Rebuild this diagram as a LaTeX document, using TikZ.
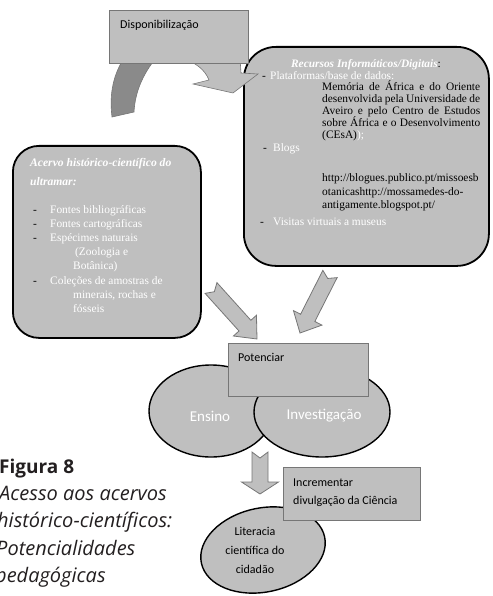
\documentclass[tikz,border=0pt]{standalone}
\usepackage{fontspec}
\setmainfont{Liberation Serif}
\newfontfamily\calfont{Carlito}
\newfontfamily\capfont{Open Sans}
\usetikzlibrary{shapes.geometric,calc}
\definecolor{boxfill}{HTML}{BFBFBF}
\definecolor{boxedge}{HTML}{767676}
\definecolor{darkband}{HTML}{8A8A8A}
\definecolor{captcol}{HTML}{231F20}
\tikzset{
  sqbox/.style={draw=boxedge, fill=boxfill, line width=1pt, inner sep=0pt, anchor=north west},
  rbox/.style={draw=black, fill=boxfill, line width=1.8pt, inner sep=0pt, anchor=north west},
  oval/.style={ellipse, draw=black, fill=boxfill, line width=1.4pt, inner sep=0pt},
  blockarrow/.style={draw=boxedge, fill=boxfill, line width=0.8pt, line join=miter},
  lbl/.style={font=\calfont\fontsize{12}{14}\selectfont, inner sep=0pt, anchor=base west},
  wtxt/.style={font=\fontsize{11.4}{13}\selectfont, text=white, inner sep=0pt, anchor=base west},
  btxt/.style={font=\fontsize{11.4}{13}\selectfont, text=black, inner sep=0pt, anchor=base west},
  captxt/.style={font=\capfont\fontsize{20}{22}\selectfont\itshape, inner sep=0pt, anchor=base west, text=captcol},
}
\newcommand{\notcharrow}[7]{%
  \coordinate (na-B) at ($(#3)!#6!(#2)$);
  \coordinate (na-N) at ($(#2)!#7!(#3)$);
  \draw[#1] ($(#2)!#4!90:(#3)$) -- ($(na-B)!#4!90:(#3)$) -- ($(na-B)!#5!90:(#3)$) -- (#3)
    -- ($(na-B)!#5!-90:(#3)$) -- ($(na-B)!#4!-90:(#3)$) -- ($(#2)!#4!-90:(#3)$) -- (na-N) -- cycle;
}
\begin{document}
\begin{tikzpicture}[x=1pt,y=-1pt]
\useasboundingbox (0,0) rectangle (492,596);
% big rounded boxes
\node[rbox, rounded corners=26pt, minimum width=188pt, minimum height=192pt] (acervo) at (12,145) {};
\node[rbox, rounded corners=32pt, minimum width=245pt, minimum height=219pt] (recursos) at (243,46) {};
% curved arrow
\filldraw[fill=darkband, draw=boxedge, line width=0.6pt] (112,117) .. controls (109,92) and (114,74) .. (124,58) -- (156,58) .. controls (143,74) and (135,92) .. (134,112) -- cycle;
\filldraw[fill=boxfill, draw=boxedge, line width=0.6pt] (180,58) .. controls (196,62) and (205,70) .. (209,80) -- (193,84) -- (233,93) -- (258,74) -- (241,73) -- (240,58) -- cycle;
% Disponibilizacao
\node[sqbox, minimum width=139pt, minimum height=53pt] (disp) at (109,10) {};
\node[lbl] (disptxt) at (120,29) {Disponibilização};
% Recursos text
\node[inner sep=0pt, anchor=base, font=\fontsize{11.4}{13}\selectfont] (r1) at (366,68) {\textcolor{white}{\textbf{\textit{Recursos Informáticos/Digitais}}}:};
\node[btxt] (r2d) at (262,80) {-};
\node[wtxt] (r2) at (270,80) {Plataformas/base de dados:};
\node[btxt] (r3) at (322,91) {\makebox[158pt][s]{Memória de África e do Oriente}};
\node[btxt] (r4) at (322,103) {\makebox[158pt][s]{desenvolvida pela Universidade de}};
\node[btxt] (r5) at (322,115) {\makebox[158pt][s]{Aveiro e pelo Centro de Estudos}};
\node[btxt] (r6) at (322,127) {\makebox[158pt][s]{sobre África e o Desenvolvimento}};
\node[btxt] (r7) at (322,139) {(CEsA)\textcolor{white}{);}};
\node[btxt] (r8d) at (263,152) {-};
\node[wtxt] (r8) at (273,152) {Blogs};
\node[btxt] (r9) at (322,181) {http://blogues.publico.pt/missoesb};
\node[btxt] (r10) at (322,195) {otanicashttp://mossamedes-do-};
\node[btxt] (r11) at (322,208) {antigamente.blogspot.pt/};
\node[btxt] (r12d) at (260,225) {-};
\node[wtxt] (r12) at (273,225) {Visitas virtuais a museus};
% Acervo text
\node[wtxt, font=\fontsize{11.6}{13}\selectfont\bfseries\itshape] (a1) at (30,167) {Acervo histórico-científico do};
\node[wtxt, font=\fontsize{11.6}{13}\selectfont\bfseries\itshape] (a2) at (30,185) {ultramar:};
\node[btxt] (a3d) at (33,213) {-};
\node[wtxt] (a3) at (50,213) {Fontes bibliográficas};
\node[btxt] (a4d) at (33,227) {-};
\node[wtxt] (a4) at (50,227) {Fontes cartográficas};
\node[btxt] (a5d) at (33,241) {-};
\node[wtxt] (a5) at (50,241) {Espécimes naturais};
\node[wtxt] (a6) at (75,255) {(Zoologia e};
\node[wtxt] (a7) at (73,269) {Botânica)};
\node[btxt] (a8d) at (33,284) {-};
\node[wtxt] (a8) at (50,284) {Coleções de amostras de};
\node[wtxt] (a9) at (73,298) {minerais, rochas e};
\node[wtxt] (a10) at (73,312) {fósseis};
% block arrows
\coordinate (arrL-tail) at (211,288);
\coordinate (arrL-tip) at (257,339);
\coordinate (arrR-tail) at (330,274);
\coordinate (arrR-tip) at (300,333);
\notcharrow{blockarrow}{arrL-tail}{arrL-tip}{8pt}{15.5pt}{18pt}{5pt}
\notcharrow{blockarrow}{arrR-tail}{arrR-tip}{8pt}{16pt}{17pt}{5pt}
% ellipses
\node[oval, minimum width=124pt, minimum height=92pt] (ensino) at (211,411) {};
\node[oval, minimum width=136pt, minimum height=90pt] (invest) at (322,412) {};
\node[font=\calfont\fontsize{15}{17}\selectfont, text=white, inner sep=0pt] (ensinotxt) at (210,416) {Ensino};
\node[font=\calfont\fontsize{15}{17}\selectfont, text=white, inner sep=0pt] (investtxt) at (324,416) {Investigação};
% Potenciar
\node[sqbox, minimum width=140pt, minimum height=53pt] (pot) at (228,343) {};
\node[lbl] (pottxt) at (238,361) {Potenciar};
% down arrow
\coordinate (arrD-tail) at (260,452);
\coordinate (arrD-tip) at (260,494);
\notcharrow{blockarrow}{arrD-tail}{arrD-tip}{8pt}{18.5pt}{12pt}{6pt}
% Literacia
\coordinate (lit) at (263,550);
\draw[fill=boxfill, draw=black, line width=1.4pt, rotate around={12:(lit)}] (lit) ellipse [x radius=63pt, y radius=42pt];
\node[align=center, font=\calfont\fontsize{12}{19}\selectfont, inner sep=0pt] (littxt) at (255,550) {Literacia\\científica do\\cidadão};
% Incrementar
\node[sqbox, minimum width=137pt, minimum height=53pt] (incr) at (283,467) {};
\node[lbl] (incr1) at (293,486) {Incrementar};
\node[lbl] (incr2) at (293,504) {divulgação da Ciência};
% caption
\node[captxt, font=\capfont\fontsize{19}{20}\selectfont\bfseries] (cap1) at (-1,473) {Figura 8};
\node[captxt] (cap2) at (-1,500) {Acesso aos acervos};
\node[captxt] (cap3) at (-3,527) {histórico-científicos:};
\node[captxt] (cap4) at (-4,555) {Potencialidades};
\node[captxt] (cap5) at (-5,582) {pedagógicas};
\end{tikzpicture}
\end{document}
